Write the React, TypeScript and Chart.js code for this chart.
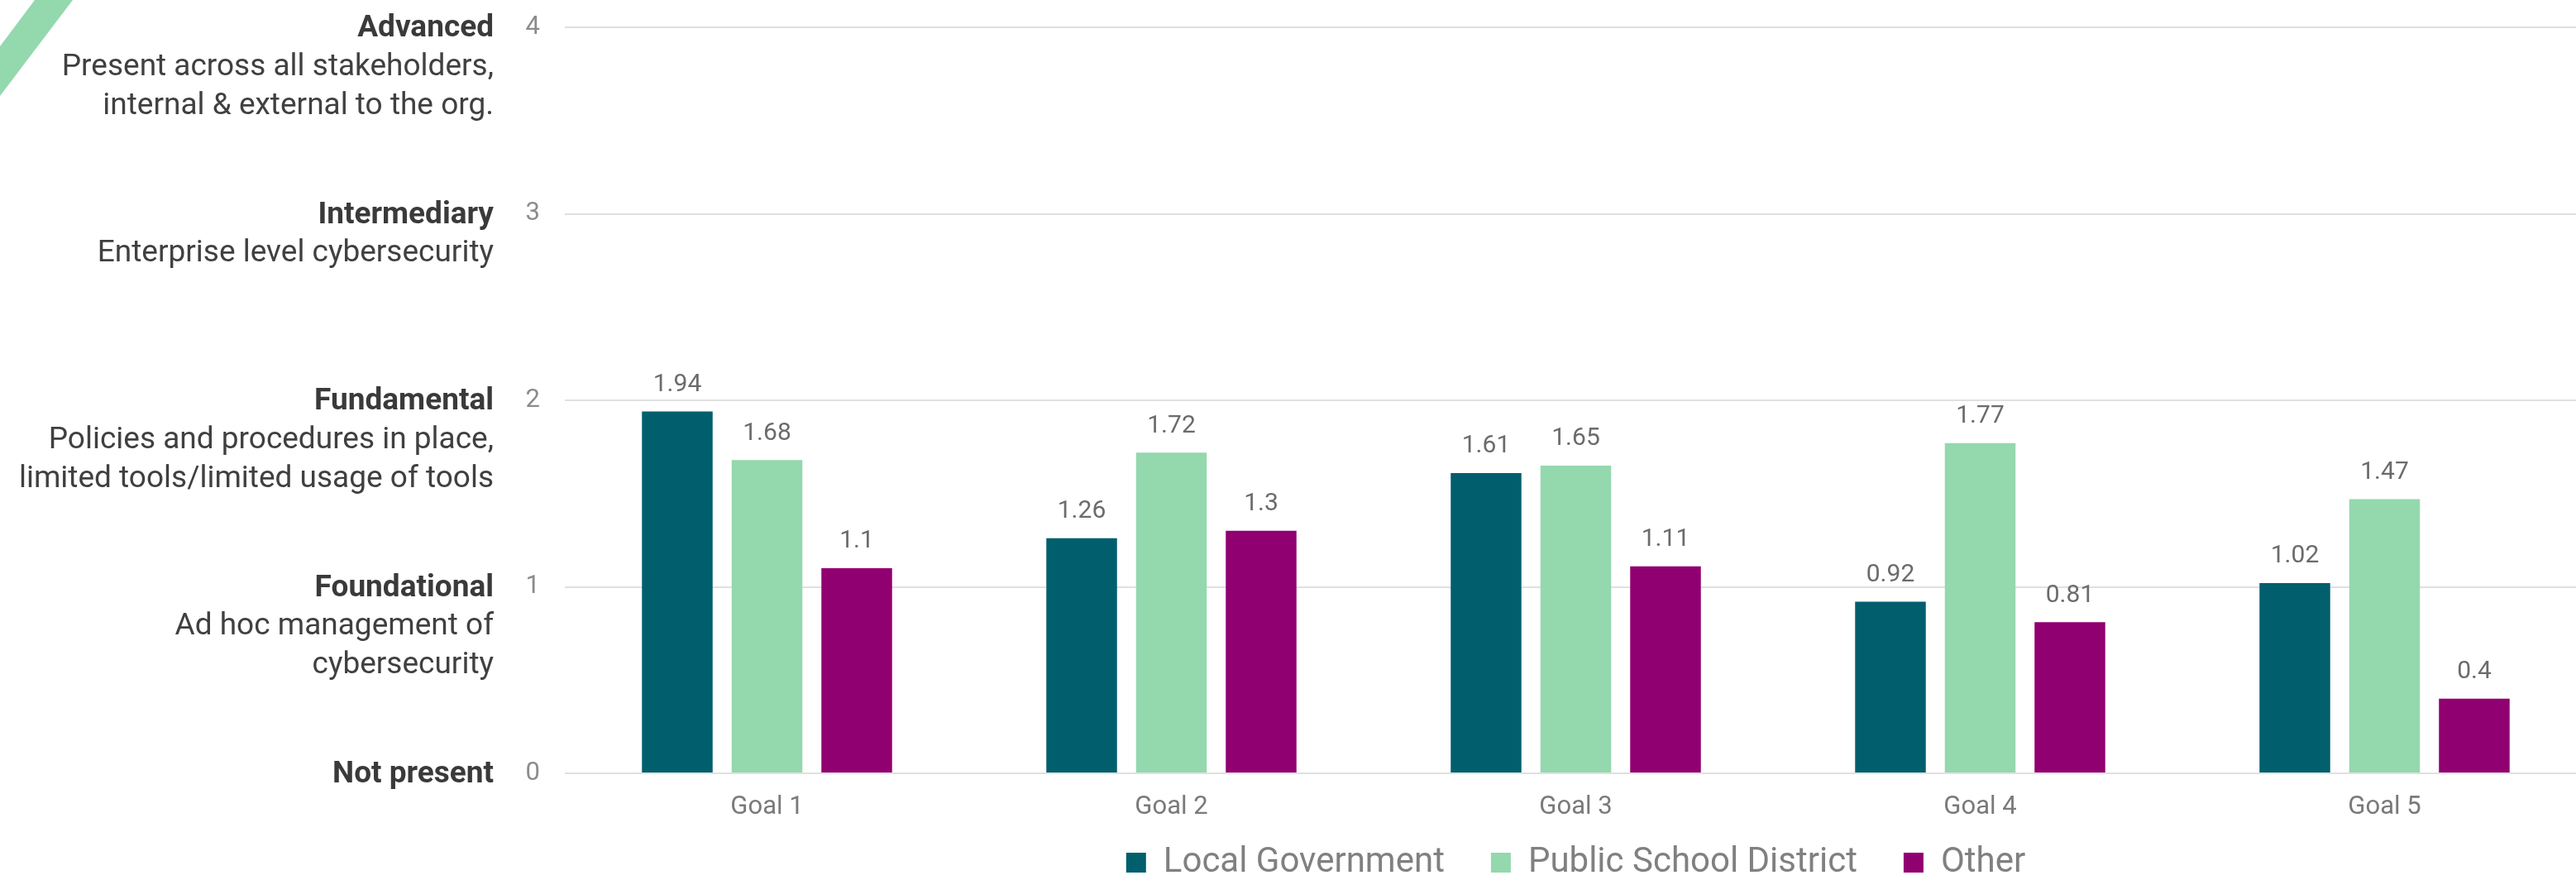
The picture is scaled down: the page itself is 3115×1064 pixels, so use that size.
import { useEffect, useRef } from 'react';
import { Chart, registerables } from 'chart.js';

Chart.register(...registerables);

const categories = ['Goal 1', 'Goal 2', 'Goal 3', 'Goal 4', 'Goal 5'];
const seriesNames = ['Local Government', 'Public School District', 'Other'];
const localGovernment = [1.94, 1.26, 1.61, 0.92, 1.02];
const publicSchoolDistrict = [1.68, 1.72, 1.65, 1.77, 1.47];
const otherOrgs = [1.1, 1.3, 1.11, 0.81, 0.4];
const seriesColors = ['#015f6d', '#94d8ae', '#910071'];

const levelValues = [0, 1, 2, 3, 4];
const levelTitles = ['Not present', 'Foundational', 'Fundamental', 'Intermediary', 'Advanced'];
const levelDescriptions = [
  [],
  ['Ad hoc management of', 'cybersecurity'],
  ['Policies and procedures in place,', 'limited tools/limited usage of tools'],
  ['Enterprise level cybersecurity'],
  ['Present across all stakeholders,', 'internal & external to the org.'],
];

const FONT = 'Roboto';

const stripePlugin = {
  id: 'stripe',
  beforeDraw(chart: any) {
    const ctx = chart.ctx;
    ctx.save();
    ctx.fillStyle = '#94d8ae';
    ctx.beginPath();
    ctx.moveTo(42, 0);
    ctx.lineTo(88, 0);
    ctx.lineTo(0, 116);
    ctx.lineTo(0, 56);
    ctx.closePath();
    ctx.fill();
    ctx.restore();
  },
};

const valueLabelPlugin = {
  id: 'valueLabels',
  afterDatasetsDraw(chart: any) {
    const ctx = chart.ctx;
    ctx.save();
    ctx.font = `30px ${FONT}`;
    ctx.fillStyle = '#6b6b6b';
    ctx.textAlign = 'center';
    ctx.textBaseline = 'middle';
    chart.data.datasets.forEach((ds: any, di: number) => {
      const meta = chart.getDatasetMeta(di);
      meta.data.forEach((bar: any, i: number) => {
        ctx.fillText(String(ds.data[i]), bar.x, bar.y - 32);
      });
    });
    ctx.restore();
  },
};

const levelLabelPlugin = {
  id: 'levelLabels',
  afterDraw(chart: any) {
    const ctx = chart.ctx;
    const y = chart.scales.y;
    ctx.save();
    ctx.textAlign = 'right';
    ctx.textBaseline = 'middle';
    levelValues.forEach((v, i) => {
      const py = y.getPixelForValue(v) + 2;
      ctx.font = `bold 37px ${FONT}`;
      ctx.fillStyle = '#3a3a3a';
      ctx.fillText(levelTitles[i], 597, py);
      ctx.font = `37px ${FONT}`;
      ctx.fillStyle = '#404040';
      levelDescriptions[i].forEach((line, li) => {
        ctx.fillText(line, 597, py + 46.7 * (li + 1));
      });
    });
    ctx.restore();
  },
};

export default function App() {
  const ref = useRef<HTMLCanvasElement | null>(null);

  useEffect(() => {
    document.body.style.margin = '0';
    document.body.style.overflow = 'hidden';
    const canvas = ref.current;
    if (!canvas) return;
    Chart.defaults.font.family = FONT;
    const chart = new Chart(canvas, {
      type: 'bar',
      data: {
        labels: categories,
        datasets: [
          { label: seriesNames[0], data: localGovernment, backgroundColor: seriesColors[0] },
          { label: seriesNames[1], data: publicSchoolDistrict, backgroundColor: seriesColors[1] },
          { label: seriesNames[2], data: otherOrgs, backgroundColor: seriesColors[2] },
        ],
      },
      options: {
        responsive: false,
        animation: false,
        devicePixelRatio: 1,
        layout: { padding: { top: 33, left: 0, right: 0, bottom: -10 } },
        datasets: {
          bar: { categoryPercentage: 0.6656, barPercentage: 0.788, borderWidth: 0 },
        },
        scales: {
          x: {
            grid: { display: false, drawTicks: false },
            border: { display: false },
            ticks: { color: '#7a7a7a', font: { size: 31 }, padding: 22.4 },
            afterFit(scale: any) {
              scale.height = 31;
              scale._computeLabelArea = () => undefined;
            },
          },
          y: {
            min: 0,
            max: 4,
            ticks: { stepSize: 1, color: '#8c8c8c', font: { size: 31 }, padding: 30 },
            grid: { color: '#e0e0e0', lineWidth: 2, drawTicks: false },
            border: { display: false },
            afterFit(scale: any) {
              scale.width = 683;
              scale.paddingTop = 0;
              scale.paddingBottom = 0;
            },
          },
        },
        plugins: {
          legend: {
            position: 'bottom',
            fullSize: false,
            labels: {
              boxWidth: 24,
              boxHeight: 24,
              padding: 56,
              color: '#808080',
              font: { size: 42 },
            },
          },
          tooltip: { enabled: false },
        },
      },
      plugins: [stripePlugin, valueLabelPlugin, levelLabelPlugin],
    } as any);
    return () => chart.destroy();
  }, []);

  return (
    <div style={{ position: 'absolute', left: 0, top: 0, width: 3115, height: 1064, overflow: 'hidden', background: '#fff' }}>
      <canvas ref={ref} width={3128} height={1064} style={{ width: 3128, height: 1064, display: 'block' }} />
    </div>
  );
}
